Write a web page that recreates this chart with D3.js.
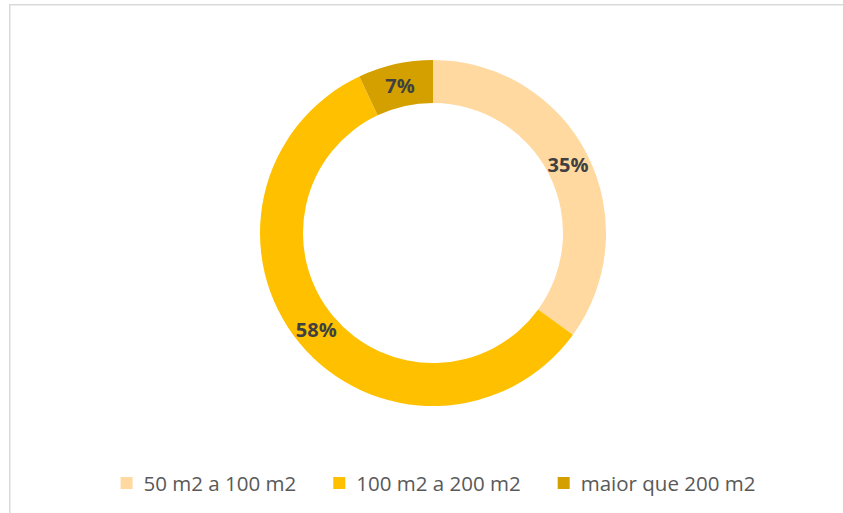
<!DOCTYPE html>
<html>
<head>
<meta charset="utf-8">
<script src="https://cdn.jsdelivr.net/npm/d3@7"></script>
<style>
  body { margin: 0; background: #fff; }
  svg { display: block; }
</style>
</head>
<body>
<div id="chart"></div>
<script>
let categories = ["50 m2 a 100 m2", "100 m2 a 200 m2", "maior que 200 m2"];
let values = [35, 58, 7];
let colors = ["#ffd9a0", "#ffc000", "#d4a000"];

let width = 843;
let height = 513;
let cx = 433, cy = 233;
let outer_r = 173, inner_r = 130;

let svg = d3.select("#chart").append("svg")
            .attr("width", width)
            .attr("height", height);

// chart frame (only top and left edges fall inside the picture)
svg.append("rect")
   .attr("x", 9.75).attr("y", 4.75)
   .attr("width", 860).attr("height", 540)
   .attr("fill", "none")
   .attr("stroke", "#d9d9d9")
   .attr("stroke-width", 1.5);

let data = categories.map((c, i) => ({name: c, value: values[i], color: colors[i]}));

let pie = d3.pie().value(d => d.value).sort(null);
let arc = d3.arc().innerRadius(inner_r).outerRadius(outer_r);

let g = svg.append("g").attr("transform", `translate(${cx},${cy})`);

let arcs = pie(data);

g.selectAll("path")
 .data(arcs)
 .join("path")
 .attr("d", arc)
 .attr("fill", d => d.data.color);

g.selectAll("text")
 .data(arcs)
 .join("text")
 .attr("transform", d => `translate(${arc.centroid(d)})`)
 .attr("text-anchor", "middle")
 .attr("dominant-baseline", "central")
 .attr("font-family", "'Open Sans', sans-serif")
 .attr("font-weight", "bold")
 .attr("font-size", 20)
 .attr("fill", "#404040")
 .text(d => `${d.data.value}%`);

// legend
let legend = svg.append("g").attr("font-family", "'Open Sans', sans-serif");
let legend_y = 483;
let sq = 12, sq_gap = 11, item_gap = 37;

let items = legend.selectAll("g")
                  .data(data)
                  .join("g");

items.append("rect")
     .attr("width", sq).attr("height", sq)
     .attr("y", legend_y - sq / 2)
     .attr("fill", d => d.color);

items.append("text")
     .attr("x", sq + sq_gap)
     .attr("y", legend_y)
     .attr("dominant-baseline", "central")
     .attr("font-size", 20.5)
     .attr("fill", "#595959")
     .text(d => d.name);

let x = 0;
let offsets = [];
items.each(function() {
    offsets.push(x);
    let w = d3.select(this).select("text").node().getComputedTextLength();
    x += sq + sq_gap + w + item_gap;
});
let total = x - item_gap;
let start = 438 - total / 2;
items.attr("transform", (d, i) => `translate(${start + offsets[i]},0)`);
</script>
</body>
</html>
